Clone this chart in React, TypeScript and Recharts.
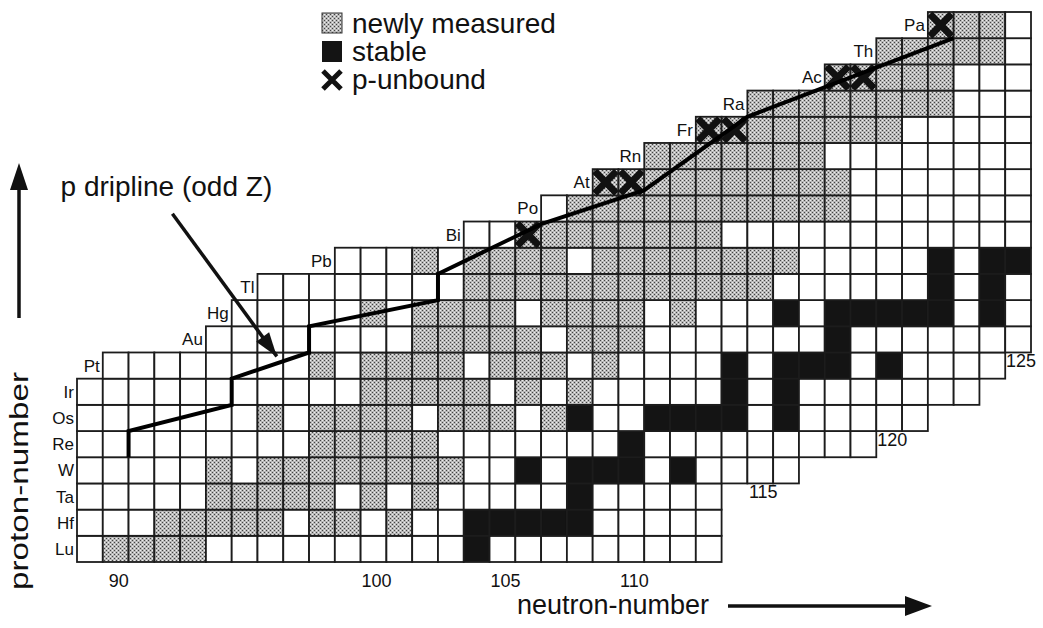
import { Scatter, ScatterChart, XAxis, YAxis } from "recharts";

// rows of the chart, bottom to top
const elements = ["Lu", "Hf", "Ta", "W", "Re", "Os", "Ir", "Pt", "Au", "Hg", "Tl", "Pb", "Bi", "Po", "At", "Rn", "Fr", "Ra", "Ac", "Th", "Pa"];
const protonNumbers = [71, 72, 73, 74, 75, 76, 77, 78, 79, 80, 81, 82, 83, 84, 85, 86, 87, 88, 89, 90, 91];
const firstNeutron = [89, 89, 89, 89, 89, 89, 89, 90, 94, 95, 96, 99, 104, 107, 109, 111, 113, 115, 118, 120, 122];

// one char per isotope starting at firstNeutron: . known, g newly measured, b stable, x p-unbound
const cellRows = [
  ".gggg..........b.........",
  "...ggggg.gg.g..bbbbb.....",
  ".....ggggg.g.g.....b.....",
  ".....g.gggggggg..b.bbb.b....",
  ".........ggggg.......b.........",
  ".......g.gggg.ggg.gb..bbbb.b.....",
  "...........ggggg.g.g.....b.b.......",
  "........g.gggg.ggg.g....b.bbb.b....",
  "........ggggg.ggg.......b.......",
  ".....g.gggg.gggg.g...b.bbbbb.b.",
  "........gggggggggggg......b.b.",
  "...g.gggg.gggggggg.....b.bb",
  "..xggggggg............",
  ".ggggggggggg.......",
  "xxgggggggg.......",
  "ggggggg........",
  "xxgggggg.....",
  "gggggggg...",
  "xxggg...",
  "ggggg.",
  "xgg.",
];

// proton drip line (odd Z), corner points in N / Z
const driplineN = [90.5, 90.5, 94.5, 94.5, 97.5, 97.5, 102.5, 102.5, 106.5, 110.5, 114.5, 122.5];
const driplineZ = [74.5, 75.5, 76.5, 77.5, 78.5, 79.5, 80.5, 81.5, 83.4, 84.7, 87.5, 90.5];

const neutronTicks = [90, 100, 105, 110, 115, 120, 125];

// annotation arrow "p dripline (odd Z)"
const arrowN = [92.2, 96.25];
const arrowZ = [83.8, 78.35];

const W = 1043;
const H = 628;
const margin = { top: 12, right: 12, bottom: 66, left: 77 };
const nDomain = [88.5, 125.5];
const zDomain = [70.5, 91.5];
const cellW = (W - margin.left - margin.right) / (nDomain[1] - nDomain[0]);
const cellH = (H - margin.top - margin.bottom) / (zDomain[1] - zDomain[0]);
const FONT = "'Liberation Sans', Arial, sans-serif";

const cells = cellRows.flatMap((row, i) =>
  row.split("").map((t, j) => ({ n: firstNeutron[i] + j, z: protonNumbers[i], t }))
);
const rowLabels = elements.map((el, i) => ({ n: firstNeutron[i] - 0.5, z: protonNumbers[i], label: el }));
const tickLabels = neutronTicks.map((n) => {
  const rows = protonNumbers.filter((z, i) => n >= firstNeutron[i] && n < firstNeutron[i] + cellRows[i].length);
  return { n, z: Math.min(...rows) - 0.5, label: String(n) };
});
const dripline = driplineN.map((n, i) => ({ n, z: driplineZ[i] }));
const arrow = arrowN.map((n, i) => ({ n, z: arrowZ[i] }));

const CellShape = (p: any) => {
  const { cx, cy, payload } = p;
  const x = cx - cellW / 2;
  const y = cy - cellH / 2;
  const t = payload.t;
  const fill = t === "b" ? "#141414" : t === "." ? "#fff" : "url(#stipple)";
  return (
    <g>
      <rect x={x} y={y} width={cellW} height={cellH} fill={fill} stroke="#1c1c1c" strokeWidth={1.8} />
      {t === "x" && (
        <path
          d={`M${x + 2},${y + 2}L${x + cellW - 2},${y + cellH - 2}M${x + cellW - 2},${y + 2}L${x + 2},${y + cellH - 2}`}
          stroke="#111"
          strokeWidth={7}
        />
      )}
    </g>
  );
};

const RowLabel = (p: any) => (
  <text x={p.cx - 3} y={p.cy + 6} textAnchor="end" fontFamily={FONT} fontSize={17} fill="#111">
    {p.payload.label}
  </text>
);

const TickLabel = (p: any) => (
  <text
    x={p.cx + 3}
    y={p.cy + (p.payload.z === zDomain[0] ? 25 : 15)}
    textAnchor="middle"
    fontFamily={FONT}
    fontSize={18}
    fill="#111"
  >
    {p.payload.label}
  </text>
);

const ArrowShape = (p: any) => {
  const { cx, cy, payload } = p;
  if (payload.n !== arrowN[1]) {
    return (
      <text x={cx - 6} y={cy - 18} textAnchor="middle" fontFamily={FONT} fontSize={28} fill="#111">
        p dripline (odd Z)
      </text>
    );
  }
  const a = Math.atan2(-(arrowZ[1] - arrowZ[0]) * cellH, (arrowN[1] - arrowN[0]) * cellW);
  const bx = cx - 24 * Math.cos(a);
  const by = cy - 24 * Math.sin(a);
  const px = 8 * Math.sin(a);
  const py = -8 * Math.cos(a);
  return <polygon points={`${cx},${cy} ${bx + px},${by + py} ${bx - px},${by - py}`} fill="#111" />;
};

const Empty = () => <g />;

export default function App() {
  return (
    <div style={{ position: "absolute", left: 0, top: 0, width: W, height: H, background: "#fff" }}>
      <ScatterChart width={W} height={H} margin={margin}>
        <XAxis type="number" dataKey="n" domain={nDomain} hide />
        <YAxis type="number" dataKey="z" domain={zDomain} hide />
        <Scatter data={cells} shape={<CellShape />} isAnimationActive={false} />
        <Scatter
          data={dripline}
          line={{ stroke: "#000", strokeWidth: 4 }}
          shape={<Empty />}
          isAnimationActive={false}
        />
        <Scatter data={rowLabels} shape={<RowLabel />} isAnimationActive={false} />
        <Scatter data={tickLabels} shape={<TickLabel />} isAnimationActive={false} />
        <Scatter data={arrow} line={{ stroke: "#111", strokeWidth: 3.5 }} shape={<ArrowShape />} isAnimationActive={false} />
      </ScatterChart>
      <svg width={W} height={H} style={{ position: "absolute", left: 0, top: 0, pointerEvents: "none" }}>
        <defs>
          <pattern id="stipple" width={4} height={4} patternUnits="userSpaceOnUse">
            <rect width={4} height={4} fill="#b8b8b8" />
            <rect x={0} y={0} width={1} height={1} fill="#444" />
            <rect x={2} y={2} width={1} height={1} fill="#444" />
            <rect x={2} y={0} width={1} height={1} fill="#eee" />
            <rect x={0} y={2} width={1} height={1} fill="#eee" />
          </pattern>
        </defs>
        {/* legend */}
        <rect x={322} y={13} width={20} height={20} fill="url(#stipple)" stroke="#333" strokeWidth={1} />
        <text x={352} y={33} fontFamily={FONT} fontSize={28} fill="#111">newly measured</text>
        <rect x={322} y={41} width={20} height={21} fill="#141414" />
        <text x={352} y={61} fontFamily={FONT} fontSize={28} fill="#111">stable</text>
        <path d="M323,71 L341,89 M341,71 L323,89" stroke="#111" strokeWidth={5} />
        <text x={352} y={89} fontFamily={FONT} fontSize={28} fill="#111">p-unbound</text>
        {/* axis titles */}
        <text
          transform="translate(28,590) rotate(-90)"
          fontFamily={FONT}
          fontSize={26}
          textLength={218}
          lengthAdjust="spacingAndGlyphs"
          fill="#111"
        >
          proton-number
        </text>
        <line x1={19} y1={318} x2={19} y2={185} stroke="#111" strokeWidth={3.5} />
        <polygon points="19,163 10,190 28,190" fill="#111" />
        <text x={517} y={614} fontFamily={FONT} fontSize={27} fill="#111">neutron-number</text>
        <line x1={728} y1={606} x2={910} y2={606} stroke="#111" strokeWidth={3.5} />
        <polygon points="932,606 905,596 905,616" fill="#111" />
      </svg>
    </div>
  );
}
